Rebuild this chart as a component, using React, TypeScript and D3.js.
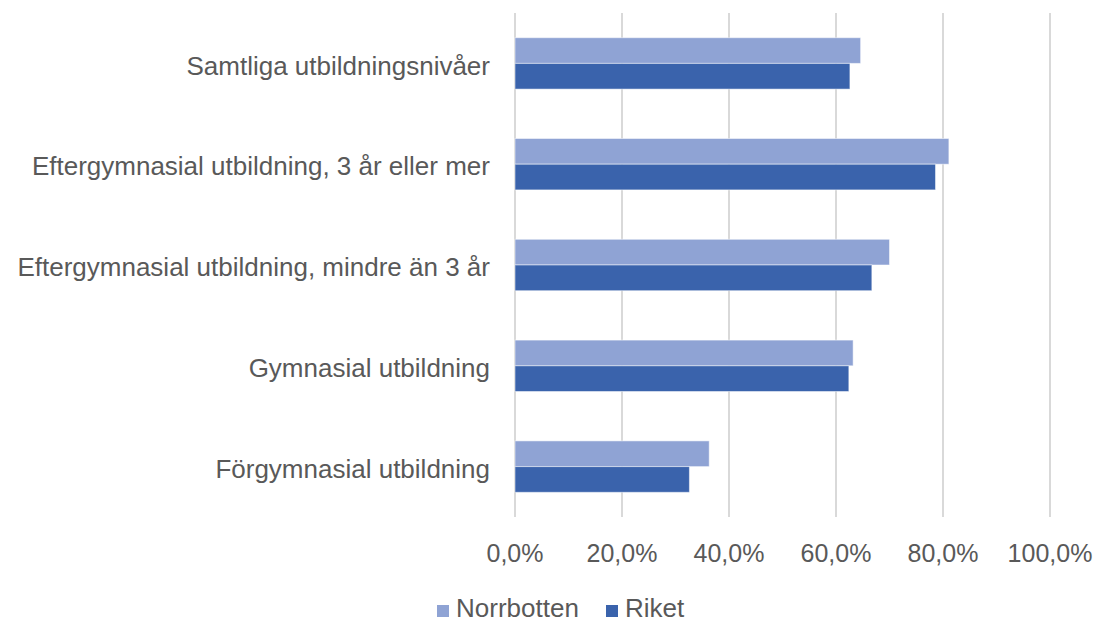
import React, { useEffect, useRef } from 'react';
import * as d3 from 'd3';

const categories = [
  'Samtliga utbildningsnivåer',
  'Eftergymnasial utbildning, 3 år eller mer',
  'Eftergymnasial utbildning, mindre än 3 år',
  'Gymnasial utbildning',
  'Förgymnasial utbildning',
];
const norrbotten = [64.6, 81.1, 70.0, 63.2, 36.3];
const riket = [62.6, 78.6, 66.7, 62.4, 32.6];
const seriesNames = ['Norrbotten', 'Riket'];
const seriesColors = ['#8fa3d4', '#3a63ac'];
const ticks = [0, 20, 40, 60, 80, 100];

const width = 1097;
const height = 625;
const margin = { top: 13, right: 47, bottom: 108, left: 515 };
const font = '"Liberation Sans", Arial, sans-serif';
const textColor = '#595959';

export default function App() {
  const ref = useRef<SVGSVGElement>(null);

  useEffect(() => {
    const svg = d3.select(ref.current);
    svg.selectAll('*').remove();

    const x = d3.scaleLinear().domain([0, 100]).range([margin.left, width - margin.right]);
    const y = d3.scaleBand().domain(categories).range([margin.top, height - margin.bottom]);
    const groupH = y.bandwidth() * 0.51;
    const inner = d3.scaleBand().domain(seriesNames).range([0, groupH]);

    // grid
    svg.append('g')
      .selectAll('line')
      .data(ticks)
      .enter().append('line')
      .attr('x1', d => x(d)).attr('x2', d => x(d))
      .attr('y1', margin.top).attr('y2', height - margin.bottom)
      .attr('stroke', '#d9d9d9')
      .attr('stroke-width', 2);

    // bars
    const rows = categories.map((c, i) => ({ cat: c, vals: [norrbotten[i], riket[i]] }));
    const groups = svg.append('g')
      .selectAll('g')
      .data(rows)
      .enter().append('g')
      .attr('transform', d => 'translate(0,' + (y(d.cat)! + (y.bandwidth() - groupH) / 2) + ')');

    groups.selectAll('rect')
      .data(d => d.vals.map((v, j) => ({ v, name: seriesNames[j], color: seriesColors[j] })))
      .enter().append('rect')
      .attr('x', x(0))
      .attr('y', d => inner(d.name)!)
      .attr('width', d => x(d.v) - x(0))
      .attr('height', inner.bandwidth())
      .attr('fill', d => d.color)
      .attr('stroke', 'rgba(255,255,255,0.5)')
      .attr('stroke-width', 1);

    // category labels
    svg.append('g')
      .selectAll('text')
      .data(categories)
      .enter().append('text')
      .attr('x', margin.left - 25)
      .attr('y', d => y(d)! + y.bandwidth() / 2 + 2)
      .attr('dy', '0.35em')
      .attr('text-anchor', 'end')
      .attr('font-family', font)
      .attr('font-size', 26)
      .attr('fill', textColor)
      .text(d => d);

    // x tick labels
    svg.append('g')
      .selectAll('text')
      .data(ticks)
      .enter().append('text')
      .attr('x', d => x(d))
      .attr('y', 553)
      .attr('dy', '0.35em')
      .attr('text-anchor', 'middle')
      .attr('font-family', font)
      .attr('font-size', 25)
      .attr('fill', textColor)
      .text(d => d3.format('.1f')(d).replace('.', ',') + '%');

    // legend
    const legendX = [437, 606];
    const lg = svg.append('g')
      .selectAll('g')
      .data(seriesNames)
      .enter().append('g')
      .attr('transform', (d, i) => 'translate(' + legendX[i] + ',608)');
    lg.append('rect')
      .attr('x', 0).attr('y', -3)
      .attr('width', 12).attr('height', 12)
      .attr('fill', (d, i) => seriesColors[i]);
    lg.append('text')
      .attr('x', 19)
      .attr('y', 0)
      .attr('dy', '0.35em')
      .attr('font-family', font)
      .attr('font-size', 26)
      .attr('fill', textColor)
      .text(d => d);
  }, []);

  return (
    <svg
      ref={ref}
      width={width}
      height={height}
      style={{ position: 'absolute', left: 0, top: 0, background: '#fff' }}
    ></svg>
  );
}
